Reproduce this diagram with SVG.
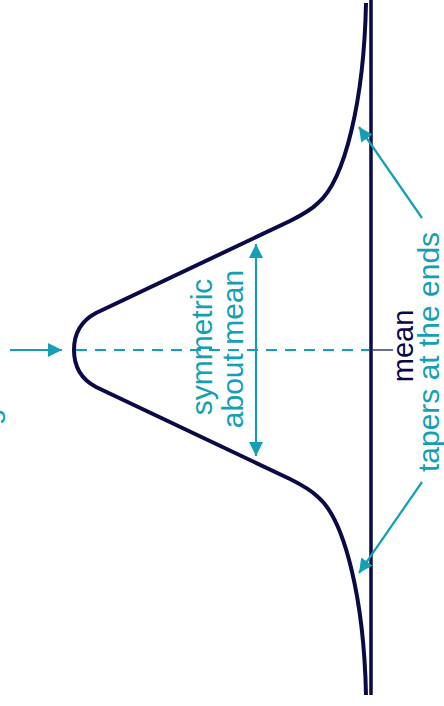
<svg xmlns="http://www.w3.org/2000/svg" width="444" height="706" viewBox="0 0 444 706">
<style>
.navy{stroke:#0a0a46;fill:none}
.teal{stroke:#14a0b4;fill:none;stroke-width:2.2}
.tt{font-family:"Liberation Sans",Arial,sans-serif;font-size:30px;fill:#14a0b4}
.nt{font-family:"Liberation Sans",Arial,sans-serif;font-size:29px;fill:#0a0a46}
</style>
<defs>
<marker id="ah" markerUnits="userSpaceOnUse" markerWidth="16" markerHeight="14" refX="14" refY="7" orient="auto-start-reverse">
<path d="M0,0 L14,7 L0,14 Z" fill="#14a0b4"/>
</marker>
</defs>
<g id="axis">
<line class="navy" x1="371" y1="0" x2="371" y2="695" stroke-width="3.5"/>
</g>
<g id="curve">
<path class="navy" stroke-width="4" d="M366,3 C364,100 345,180 318,203 C312,209 300,216 290,221 L96,313 C79,322 74,337 74,350 C74,363 79,378 96,387 L290,479 C300,484 312,491 318,497 C345,520 364,600 366,695"/>
</g>
<g id="connectors">
<line class="teal" x1="76" y1="350" x2="369" y2="350" stroke-dasharray="11 8"/>
<line class="navy" x1="373" y1="350" x2="393" y2="350" stroke-width="1.2"/>
<line class="teal" x1="10" y1="350" x2="62" y2="350" marker-end="url(#ah)"/>
<line class="teal" x1="256" y1="244" x2="256" y2="456" marker-start="url(#ah)" marker-end="url(#ah)"/>
<line class="teal" x1="422" y1="218" x2="359" y2="127" marker-end="url(#ah)"/>
<line class="teal" x1="422" y1="482" x2="359" y2="573" marker-end="url(#ah)"/>
</g>
<g id="label-peak">
<text class="tt" transform="translate(-1,417) rotate(-90)" text-anchor="middle">g</text>
</g>
<g id="label-symmetric">
<text class="tt" transform="translate(212,347) rotate(-90)" text-anchor="middle">symmetric</text>
<text class="tt" transform="translate(243,349) rotate(-90)" text-anchor="middle">about mean</text>
</g>
<g id="label-mean">
<text class="nt" transform="translate(413,346) rotate(-90)" text-anchor="middle">mean</text>
</g>
<g id="label-tapers">
<text class="tt" transform="translate(439,352) rotate(-90)" text-anchor="middle">tapers at the ends</text>
</g>
</svg>
